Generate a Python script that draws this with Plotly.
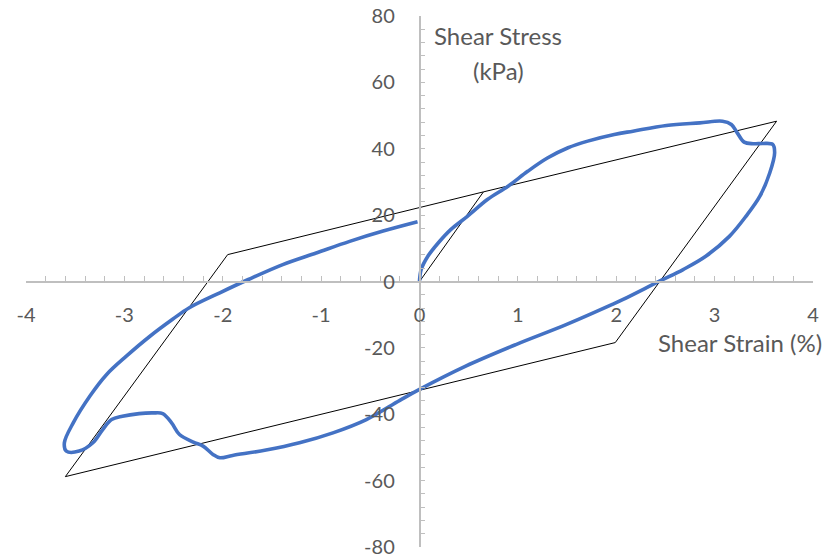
import plotly.graph_objects as go

# Hysteresis loop measured in the cyclic shear test
strain_meas = [0, 0.017, 0.085, 0.19, 0.32, 0.49, 0.69, 0.90, 1.10, 1.30, 1.51, 1.71, 1.98,
               2.17, 2.51, 2.85, 3.08, 3.17, 3.23, 3.30, 3.39, 3.49, 3.59, 3.61, 3.56, 3.46,
               3.32, 3.15, 2.91, 2.68, 2.44, 2.07, 1.96, 1.49, 0.98, 0.47, 0.0, -0.20, -0.54,
               -0.88, -1.22, -1.56, -1.90, -2.03, -2.10, -2.20, -2.30, -2.44, -2.52, -2.61,
               -2.71, -2.85, -3.02, -3.13, -3.22, -3.32, -3.46, -3.59, -3.61, -3.52, -3.35,
               -3.18, -2.98, -2.74, -2.51, -2.34, -2.03, -1.74, -1.39, -1.05, -0.71, -0.37,
               -0.02]
stress_meas = [0, 3.6, 7.6, 11.6, 15.7, 19.7, 24.7, 28.7, 33.2, 37.2, 40.3, 42.3, 44.3,
               45.3, 47.0, 47.8, 48.3, 47.3, 44.8, 42.0, 41.5, 41.6, 41.3, 38.8, 32.7, 25.7,
               19.7, 13.6, 7.6, 3.6, 0.1, -5.4, -6.9, -13.0, -19.0, -25.5, -32.5, -35.8, -41.6,
               -45.6, -48.6, -50.8, -52.4, -53.1, -52.1, -49.6, -48.4, -46.1, -42.6, -39.8,
               -39.6, -39.8, -40.6, -41.6, -44.6, -48.6, -51.1, -51.1, -48.6, -42.6, -34.5,
               -28.0, -22.5, -16.5, -11.4, -7.9, -3.4, 0.6, 5.1, 8.6, 12.1, 15.2,
               18.0]

# Bilinear (elasto-plastic) model loop
strain_model = [0, 0.65, 3.63, 1.99, -3.60, -1.95, 0.65]
stress_model = [0, 27.0, 48.3, -18.4, -58.8, 8.1, 27.0]

x_ticks = [-4, -3, -2, -1, 0, 1, 2, 3, 4]
y_ticks = [-80, -60, -40, -20, 0, 20, 40, 60, 80]

FONT = "Lato"
LABEL_GREY = "#595959"
AXIS_GREY = "#BFBFBF"

# plot area in pixels
W, H = 839, 558
L, R, T, B = 26, 26, 16, 11
PW, PH = W - L - R, H - T - B


def px_to_paper(px, py):
    return (px - L) / PW, 1 - (py - T) / PH


fig = go.Figure()
fig.add_trace(go.Scatter(
    x=strain_model, y=stress_model, mode="lines",
    line=dict(color="black", width=1), hoverinfo="skip", showlegend=False))
fig.add_trace(go.Scatter(
    x=strain_meas, y=stress_meas, mode="lines",
    line=dict(color="#4472C4", width=3.6, shape="spline", smoothing=1.0),
    showlegend=False))

axis_common = dict(
    showgrid=False, zeroline=False, showline=True, linecolor=AXIS_GREY, linewidth=1.5,
    ticks="inside", ticklen=5, tickcolor=AXIS_GREY, tickwidth=1.2,
    tickfont=dict(family=FONT, size=20, color=LABEL_GREY),
    anchor="free", position=0.5, automargin=False,
)

sx, sy = px_to_paper(498, 36)
kx, ky = px_to_paper(498, 71)
tx, ty = px_to_paper(740, 342)

fig.update_layout(
    width=W, height=H,
    margin=dict(l=L, r=R, t=T, b=B, autoexpand=False),
    paper_bgcolor="white", plot_bgcolor="white",
    xaxis=dict(range=[-4, 4], tickvals=x_ticks, ticktext=[str(v) for v in x_ticks],
               minor=dict(dtick=0.2, tick0=0, ticks="inside", ticklen=5,
                          tickcolor=AXIS_GREY, tickwidth=1.2),
               ticklabelstandoff=16, **axis_common),
    yaxis=dict(range=[-80, 80], tickvals=y_ticks, ticktext=[str(v) for v in y_ticks],
               minor=dict(dtick=4, tick0=0, ticks="inside", ticklen=5,
                          tickcolor=AXIS_GREY, tickwidth=1.2),
               ticklabelstandoff=20, **axis_common),
    font=dict(family=FONT, color=LABEL_GREY),
    annotations=[
        dict(text="Shear Stress", xref="paper", yref="paper", x=sx, y=sy,
             xanchor="center", yanchor="middle", showarrow=False,
             font=dict(family=FONT, size=24, color=LABEL_GREY)),
        dict(text="(kPa)", xref="paper", yref="paper", x=kx, y=ky,
             xanchor="center", yanchor="middle", showarrow=False,
             font=dict(family=FONT, size=24, color=LABEL_GREY)),
        dict(text="Shear Strain (%)", xref="paper", yref="paper", x=tx, y=ty,
             xanchor="center", yanchor="middle", showarrow=False,
             font=dict(family=FONT, size=24, color=LABEL_GREY)),
    ],
)

fig.write_html("out.html")
